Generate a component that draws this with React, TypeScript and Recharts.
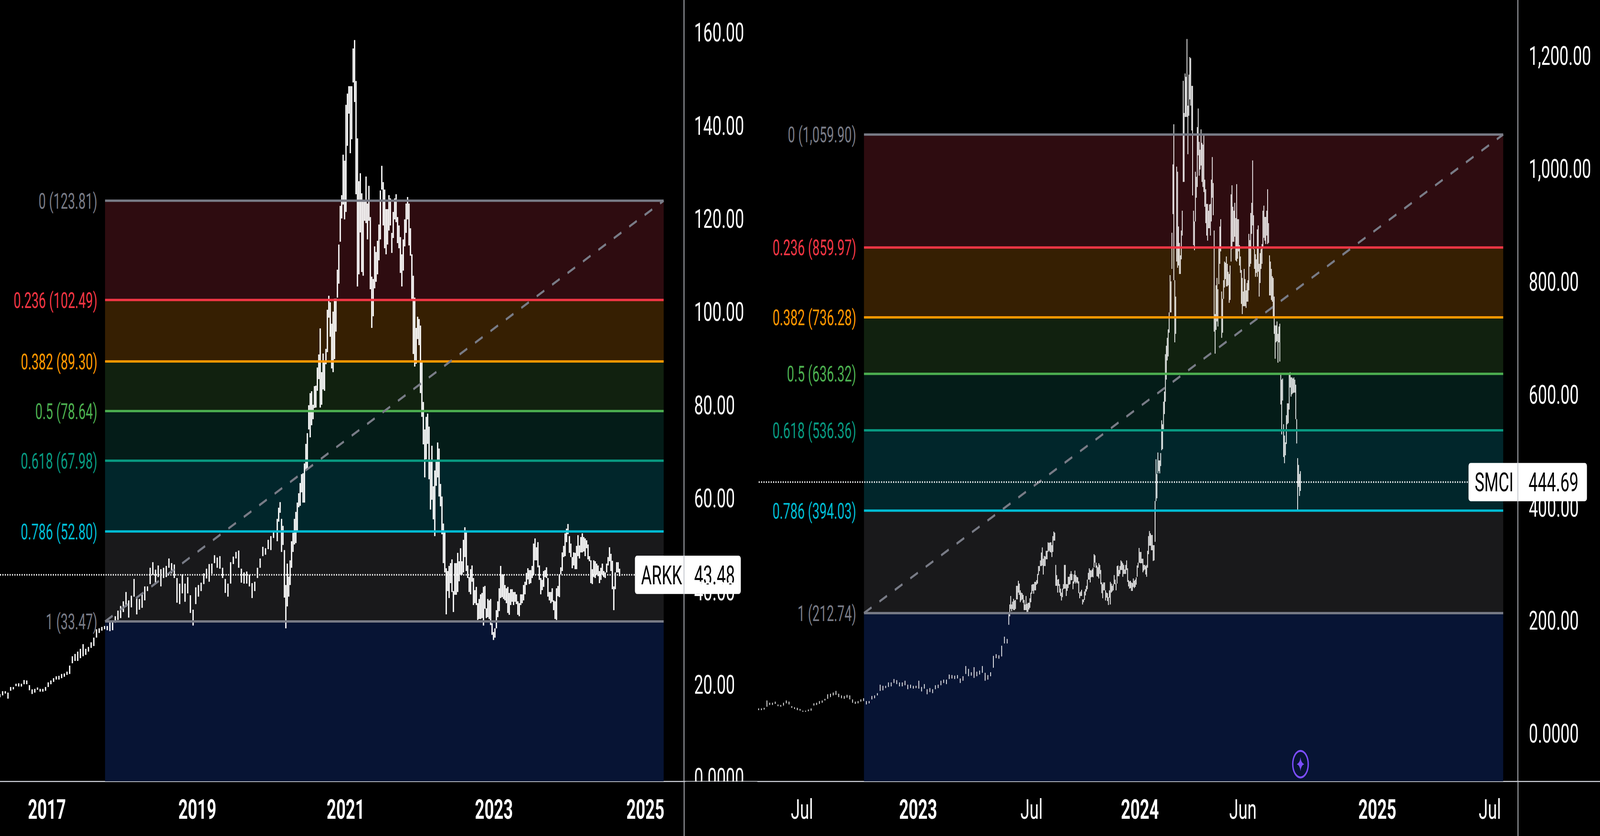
import React from 'react';
import { ComposedChart, Bar, XAxis, YAxis, ReferenceArea, ReferenceLine, ReferenceDot } from 'recharts';

type Range = [number, number];

const fibRatios = ['0', '0.236', '0.382', '0.5', '0.618', '0.786', '1'];
const fibLineColors = ['#787b86', '#f23645', '#ff9800', '#4caf50', '#089981', '#00bcd4', '#787b86'];
const fibBandColors = ['#2e0c10', '#361f02', '#11210f', '#041c18', '#01262b', '#19191b', '#071434'];

const arkkFibs = [123.81, 102.49, 89.3, 78.64, 67.98, 52.8, 33.47];
const arkkFibText = ['123.81', '102.49', '89.30', '78.64', '67.98', '52.80', '33.47'];
const smciFibs = [1059.9, 859.97, 736.28, 636.32, 536.36, 394.03, 212.74];
const smciFibText = ['1,059.90', '859.97', '736.28', '636.32', '536.36', '394.03', '212.74'];

const arkkPriceTicks = [0, 20, 40, 60, 80, 100, 120, 140, 160];
const arkkPriceLabels = ['0.0000', '20.00', '40.00', '60.00', '80.00', '100.00', '120.00', '140.00', '160.00'];
const smciPriceTicks = [0, 200, 400, 600, 800, 1000, 1200];
const smciPriceLabels = ['0.0000', '200.00', '400.00', '600.00', '800.00', '1,000.00', '1,200.00'];

// x axis units: weeks for ARKK, sessions for SMCI
const arkkTimeTicks = [33, 138.8, 243.2, 347.5, 454];
const arkkTimeLabels = ['2017', '2019', '2021', '2023', '2025'];
const smciTimeTicks = [47, 171.4, 293, 409, 519.4, 663.4, 784];
const smciTimeLabels = ['Jul', '2023', 'Jul', '2024', 'Jun', '2025', 'Jul'];

// [low, high] per candle
const arkkEarly: Range[] = [
  [17.2, 17.9], [17.6, 18.5], [18, 18.5], [16.9, 18.2], [18.6, 19.4], [18.9, 19.4], [19.6, 20.1], [19.5, 20.2], [19.5, 20.1], [20, 20.9],
  [20, 20.8], [18.7, 19.8], [17.9, 18.9], [18.2, 19], [18.8, 19.3], [18.4, 19], [18.4, 19], [18.6, 19.4], [19.4, 20.4], [20, 20.8],
  [20.5, 21.3], [21, 21.7], [21, 21.8], [21.3, 22.2], [21.6, 22.3], [22, 22.7], [22.2, 24], [24.5, 26], [25, 26.5], [25, 27],
  [25.6, 27.6], [26, 28.6], [26.3, 27.6], [27, 28], [27.8, 29], [28.2, 30], [30, 31.8], [31, 32], [31.5, 32.3], [31.8, 32.5],
  [31.6, 32.5], [31.4, 33.4], [31.6, 33.6], [33.2, 34.6], [33.8, 35.8], [34.2, 36.8], [35.5, 37.8], [36.6, 39.8], [34.3, 38], [36.5, 39],
  [38.8, 42.6], [35, 38.6], [36, 38.3], [36.4, 39.4], [38, 41], [40, 41], [41.5, 45], [43.5, 46.2], [41.8, 44.6], [43, 45.5],
  [41, 44.7], [42.8, 45], [43, 45.4], [45, 47], [43.8, 46], [42.8, 45.7], [37.5, 42.8], [37.2, 41.6], [39.5, 43.6], [37.7, 41.6],
  [39.5, 43], [35.3, 39.1], [32.6, 36], [37.2, 40.8], [38.8, 41.3], [40, 41.8], [41.5, 43.8], [42.7, 44.8], [42, 45.8], [43.7, 45.9],
  [46, 47.7], [45, 47.2], [44.8, 47.5], [42.8, 45], [39.6, 42.6], [38.8, 41.6], [41.6, 46.2], [45.8, 47.4], [47, 48.4], [45, 48.7],
  [41.8, 44.8], [41.6, 44], [41.6, 44.2], [41, 43.5], [38.5, 41.7], [40, 42], [42.8, 45], [45, 47], [47.5, 49.5], [47.8, 49.2],
  [49, 51], [48.8, 51.8], [51.4, 53],
];
const arkkRally: Range[] = [
  [50.7, 55.5], [54.9, 57.9], [56.8, 59.1], [48.4, 55.5], [49.9, 54], [38.6, 48.8], [32, 41.3], [36.7, 45.9], [38.8, 43.1], [41.3, 46.6],
  [45, 50.7], [48.4, 52.5], [50, 55.5], [50.3, 57], [53, 59], [58, 61], [58.3, 63.2], [61.2, 65.1], [59, 65.3], [59, 67.4],
  [66, 71.6], [66, 73.9], [74.7, 79.9], [73, 82.5], [75.6, 82.9], [76.9, 80], [79.3, 84], [79.4, 84.1], [83, 88], [85.5, 90.8],
  [79.4, 96.4], [80, 87], [83.3, 91], [83, 89.5], [88.7, 92], [91.3, 100.4], [98.7, 103.4], [94.6, 102], [87.8, 97.4], [87, 100],
  [89.8, 102.8], [95.7, 102.8],
];
const arkkPeak: Range[] = [
  [103, 109], [106, 114.4], [115, 122.7], [120, 125], [123, 133.7], [119.8, 132.4], [121.4, 144.4], [135.6, 146.8], [142.5, 148.4], [134, 148.4],
  [137, 148.4], [149.2, 156.5], [145, 158.3], [125.2, 149.5], [105.4, 137.2], [108, 128], [117, 129.7], [108.5, 125.4], [107.7, 123.6], [119.5, 123.8],
  [119, 129], [115.5, 123.2], [119.5, 127], [104.8, 120.3], [96.5, 107.5], [99, 107], [105, 114], [106.4, 112.8], [108, 115.2], [111, 118.7],
  [115.5, 126], [126.2, 131.3], [118.5, 127.8], [113.6, 126.2], [112.3, 122], [114.4, 122], [117.4, 125], [118.5, 124.3], [112.6, 116.9], [115.8, 121.4],
  [119.8, 124.3], [119.2, 125.2], [114.7, 120.3], [113.6, 118.5], [108.3, 116], [105.4, 112.3], [108.8, 115.5], [114, 119.8], [116.9, 123.2], [119.8, 124.6],
  [114.2, 123.2], [112, 117.9], [102.7, 112.3], [90.9, 107.7], [88.2, 103], [88.8, 96.5], [94.1, 98.9], [92.8, 98.4], [82.5, 97],
];
const arkkDecline: Range[] = [
  [77.4, 89.2], [71.5, 80.6], [64.4, 74.7], [68.3, 77.4], [71.6, 78.1], [64, 75.3], [57.5, 67.8], [59.6, 71.2], [55.4, 62.5], [51.8, 65.9],
  [62.6, 68], [64.4, 71.9], [60.3, 70.6], [58.2, 63], [52.2, 60.3], [46, 54.5], [44, 52.6], [35, 44.9], [40, 44.3], [38.5, 45.4],
  [41.7, 46], [39.8, 46.8], [35.5, 40], [39.2, 46], [39.2, 46], [39.8, 48.2], [42.1, 46.4], [43.5, 49.2], [43.5, 46.4], [44, 51],
  [47.3, 53.7], [44.3, 52.6], [42.8, 45.5], [39.8, 43], [39.3, 44.7], [42, 45.5], [37, 42.8], [37.4, 40.2], [37, 40.9], [33.8, 37.4],
  [34, 38.3], [34, 39.3], [34.2, 39.6], [32.6, 40.9], [36.2, 41.1], [34.2, 36.3], [34.4, 38.3], [34, 38], [32.7, 38.3], [30.6, 33.1],
  [29.5, 31.2], [30, 32], [32, 35.9], [34.4, 37.8], [35.7, 40.6], [38.5, 45.4], [38.7, 43.5], [38.3, 43.6], [38, 41.3], [37.4, 40.6],
  [35.3, 40.9], [34.9, 39.6], [37, 40.4], [37.7, 40.4], [37, 39.8], [37.7, 39.8], [37.2, 39.3], [34.9, 37.8], [34.6, 37.4], [37, 39.3],
];
const arkkRange: Range[] = [
  [37.4, 39.3], [38, 41.3], [39.3, 42], [41.3, 43.9], [42.5, 44.9], [41.5, 44.5], [41.7, 44.5], [42.8, 45.4], [43.5, 50.2], [46.6, 51.3],
  [46.6, 49.4], [45.1, 50.5], [42.4, 45.5], [39.3, 42.8], [40.2, 42.4], [40.9, 44.3], [43, 44.5], [42.8, 45.1], [38.8, 42.8], [38, 39.8],
  [37.4, 39.8], [37.7, 40.6], [35.9, 38], [34, 37.8], [33.8, 40.6], [38.9, 41.1], [38.7, 43.6], [43.6, 45.1], [44.3, 48.3], [47.3, 49.7],
  [47.5, 52.4], [50.5, 53.4], [52.2, 54.4], [48.2, 51.8], [47.3, 50.2], [44.9, 47.3], [45.5, 48.3], [44.7, 48.2], [44.7, 49.7], [47.5, 52],
  [47, 49.8], [48.3, 51.6], [48.3, 52.4], [48.5, 51.6], [47.5, 51.3], [49.2, 50.9], [46.8, 50], [46.4, 47.5], [41.7, 46.6], [41.5, 44.7],
  [43, 46.6], [42.8, 46.4], [43.5, 45.9], [43.2, 45.5], [41.7, 44.3], [42.4, 45], [43.5, 45.9], [43, 44.3], [42.8, 44], [44, 45.9],
  [45.5, 47.3], [46.4, 49.4], [44.3, 48], [40.4, 46.5], [35.9, 41], [40.4, 44], [44, 46.2], [44, 46.2], [43.2, 44.8],
];

const smciEarly: Range[] = [
  [41, 44], [41, 44], [42, 45], [47, 58], [50, 54], [50, 54], [52, 56], [48, 51], [47, 50], [49, 54],
  [53, 58], [51, 56], [45, 48], [43, 46], [41, 45], [40, 43], [38, 40], [38, 40], [39, 42], [40, 44],
  [49, 53], [50, 54], [52, 57], [54, 58], [58, 61], [61, 69], [64, 70], [67, 72], [68, 75], [64, 70],
  [62, 67], [61, 66], [63, 68], [60, 67], [54, 60], [52, 56], [53, 57], [56, 60], [57, 62], [51, 57],
  [53, 57], [60, 66], [62, 67], [67, 71], [75, 86], [76, 84], [80, 84], [82, 90], [83, 90], [89, 96],
  [87, 94], [83, 90], [83, 90], [85, 93], [78, 86], [80, 86], [79, 84], [80, 84], [79, 93], [74, 82],
  [79, 87], [69, 78], [73, 80], [71, 78], [78, 85], [80, 86], [85, 93], [89, 95], [87, 95], [96, 104],
  [97, 103], [96, 102], [97, 103], [89, 97], [93, 101], [105, 119], [101, 114], [102, 108], [98, 117], [101, 109],
  [104, 111], [107, 119], [93, 107], [95, 103], [101, 108], [116, 137], [133, 140], [132, 138], [136, 155], [159, 171], [159, 167],
];
const smciBase: Range[] = [
  [192, 212], [207, 228], [220, 243], [216, 228], [220, 233], [218, 238], [218, 235], [220, 236], [237, 261], [237, 261],
  [249, 270], [245, 265], [232, 253], [235, 249], [237, 248], [231, 245], [218, 236], [218, 228], [218, 243], [214, 229],
  [215, 231], [219, 231], [222, 239], [232, 249], [247, 263], [252, 264], [247, 264], [253, 268], [253, 268], [263, 271],
  [265, 282], [280, 296], [287, 296], [296, 306], [296, 320], [297, 329], [281, 309], [296, 314], [296, 313], [308, 323],
  [308, 323], [321, 338], [323, 337], [321, 338], [320, 338], [312, 333], [321, 349], [341, 357], [341, 355], [261, 298],
  [261, 280], [249, 272], [261, 273], [249, 264], [243, 256], [235, 249], [241, 256], [255, 264], [256, 298], [256, 298],
  [243, 264], [252, 264], [257, 277], [263, 277], [264, 282], [271, 287], [271, 282], [255, 269], [265, 281], [268, 288],
  [265, 280], [267, 277], [265, 276], [248, 269], [239, 249], [243, 251], [243, 254], [228, 237], [232, 237], [236, 251],
  [244, 255], [251, 261], [255, 272], [272, 284], [272, 292], [267, 289], [276, 288], [277, 290], [276, 293], [294, 317],
  [302, 315], [293, 302], [278, 297], [277, 294], [274, 301], [282, 298], [264, 289], [248, 267], [239, 264], [253, 267],
  [253, 267], [235, 253], [240, 249], [234, 248], [227, 241], [240, 253], [228, 268], [249, 265], [251, 261], [253, 264],
  [264, 280], [264, 272], [253, 265], [265, 296], [278, 297], [278, 289], [282, 296], [289, 306], [289, 304], [277, 301],
  [282, 298], [282, 290], [282, 298], [289, 306], [268, 292], [260, 271], [256, 269], [257, 270], [252, 267], [252, 266],
  [259, 274], [257, 270], [259, 272], [263, 276], [277, 297], [293, 302], [302, 328], [301, 321], [301, 321], [301, 309],
  [285, 309], [288, 298], [290, 298], [281, 296],
];
const smciBreakout: Range[] = [
  [277, 298], [293, 323], [317, 349], [332, 358], [332, 354], [324, 351], [324, 351], [305, 333], [306, 333], [339, 411],
  [411, 485], [416, 459], [460, 497], [464, 483], [460, 483], [473, 496], [501, 554], [503, 547], [536, 587], [565, 605],
  [587, 671], [626, 686], [660, 700], [667, 715], [709, 745], [745, 811], [745, 800], [822, 886], [919, 1007], [802, 1078],
  [692, 802], [707, 773], [835, 1003], [824, 994], [828, 897], [813, 868], [813, 846], [839, 890], [881, 925], [976, 1155],
  [976, 1098], [1091, 1168], [1091, 1162], [1091, 1229], [1025, 1111], [1093, 1166], [1122, 1197], [1111, 1195], [1067, 1146], [952, 1146],
];
const smciTop: Range[] = [
  [864, 925], [855, 906], [906, 994], [948, 985], [967, 1073], [1023, 1106], [987, 1047], [998, 1033], [1005, 1069], [976, 1045],
  [967, 1042], [958, 1058], [932, 980], [903, 963], [881, 937], [872, 937], [894, 925], [894, 936], [881, 937], [906, 980],
  [948, 1020], [917, 974], [711, 890], [672, 742], [714, 793], [729, 806], [720, 786], [795, 861], [831, 897], [853, 910],
  [700, 782], [709, 769], [769, 802], [789, 835], [804, 833], [791, 844], [791, 831], [793, 817], [762, 813], [767, 828],
  [835, 954], [857, 970], [870, 932], [870, 925], [879, 939], [837, 912], [835, 972], [840, 910], [853, 910], [828, 864],
  [815, 844], [760, 820], [742, 806], [756, 782], [756, 822], [756, 804], [753, 784], [764, 797], [764, 802], [784, 884],
  [826, 873], [831, 921], [884, 939], [899, 1014], [857, 917], [822, 857], [808, 848], [815, 839], [808, 892], [817, 899],
  [773, 831], [797, 850], [822, 857], [831, 866], [859, 925], [877, 934], [872, 914], [866, 914], [881, 925], [866, 963], [868, 903],
];
const smciSlide: Range[] = [
  [775, 846], [775, 835], [767, 822], [764, 809], [738, 806], [707, 773], [663, 722], [692, 722], [694, 729], [656, 707],
  [692, 720], [658, 725], [582, 637], [529, 626], [589, 628], [489, 547], [478, 527], [492, 515], [512, 563], [547, 584],
  [549, 584], [573, 637], [612, 639], [596, 630], [600, 630], [602, 628], [603, 630], [603, 626], [556, 617], [513, 556],
  [395, 487], [436, 475], [420, 459], [429, 464],
];

const AXIS_GREY = '#c0c3ca';
const TEXT_SQUEEZE = 'scale(0.875, 1)';
const PRICE_SQUEEZE = 'scale(0.91, 1)';
const FONT = 'Roboto, sans-serif';
const DESIGN_W = 6000;
const DESIGN_H = 2139;

const spread = (list: Range[], from: number, to: number) =>
  list.map((range, i) => ({ t: from + (i * (to - from)) / (list.length - 1), range }));

const arkkRows = [
  ...spread(arkkEarly, 0, 192.5),
  ...spread([...arkkRally, ...arkkPeak, ...arkkDecline, ...arkkRange], 195.1, 435.9),
];
const smciRows = [
  ...spread(smciEarly, 0.6, 266.9),
  ...spread(smciBase, 268.6, 415.4),
  ...spread([...smciBreakout, ...smciTop, ...smciSlide], 416.3, 581.1),
];

const TimeTick = ({ x, y, payload, ticks, labels }: any) => {
  const label = labels[ticks.indexOf(payload.value)];
  const isYear = /^\d+$/.test(label);
  return (
    <text transform={`translate(${x} ${y + 88}) ${TEXT_SQUEEZE}`} textAnchor="middle" fill="#fff" fontSize={71} fontFamily={FONT} fontWeight={isYear ? 700 : 400}>
      {label}
    </text>
  );
};

const PriceTick = ({ x, y, payload, ticks, labels, gap }: any) => (
  <text transform={`translate(${x + gap} ${y + 24}) ${PRICE_SQUEEZE}`} fill="#fff" fontSize={67} fontFamily={FONT}>
    {labels[ticks.indexOf(payload.value)]}
  </text>
);

const FibLabel = ({ cx, cy, text, color }: any) => (
  <text transform={`translate(${cx - 29} ${cy + 20}) ${TEXT_SQUEEZE}`} textAnchor="end" fill={color} fontSize={55} fontFamily={FONT}>
    {text}
  </text>
);

const PriceBox = ({ cx, cy, symbol, price, left, right, symbolAt, priceAt }: any) => (
  <g>
    <rect x={cx - left} y={cy - 49} width={left + right} height={98} rx={8} fill="#fff" />
    <line x1={cx} x2={cx} y1={cy - 49} y2={cy + 49} stroke={AXIS_GREY} strokeWidth={3} />
    <text transform={`translate(${cx - symbolAt} ${cy + 24}) ${PRICE_SQUEEZE}`} fill="#000" fontSize={67} fontFamily={FONT}>{symbol}</text>
    <text transform={`translate(${cx + priceAt} ${cy + 24}) ${PRICE_SQUEEZE}`} fill="#000" fontSize={67} fontFamily={FONT}>{price}</text>
  </g>
);

const SparkBadge = ({ cx, cy }: any) => (
  <g>
    <ellipse cx={cx} cy={cy} rx={29} ry={34} fill="none" stroke="#7c4dff" strokeWidth={5} />
    <path d={`M${cx} ${cy - 18} Q${cx + 2} ${cy - 3} ${cx + 14} ${cy} Q${cx + 2} ${cy + 3} ${cx} ${cy + 18} Q${cx - 2} ${cy + 3} ${cx - 14} ${cy} Q${cx - 2} ${cy - 3} ${cx} ${cy - 18}Z`} fill="#7c4dff" />
  </g>
);

const PriceChart = ({
  rows, width, axisWidth, xMax, yMin, yMax, priceTicks, priceLabels, timeTicks, timeLabels,
  fibs, fibText, fibFrom, fibTo, lastPrice, lastFrom, lastTo, barSize, box, children,
}: any) => (
  <ComposedChart width={width} height={DESIGN_H} data={rows} margin={{ top: 0, right: 0, bottom: 0, left: 0 }}>
    <XAxis
      type="number"
      dataKey="t"
      domain={[0, xMax]}
      ticks={timeTicks}
      allowDataOverflow
      height={140}
      axisLine={false}
      tickLine={false}
      tick={<TimeTick ticks={timeTicks} labels={timeLabels} />}
      interval={0}
    />
    <YAxis
      orientation="right"
      domain={[yMin, yMax]}
      ticks={priceTicks}
      allowDataOverflow
      width={axisWidth}
      axisLine={{ stroke: AXIS_GREY, strokeWidth: 3 }}
      tickLine={false}
      tick={<PriceTick ticks={priceTicks} labels={priceLabels} gap={box.tickGap} />}
      interval={0}
    />
    {fibs.map((level: number, i: number) => (
      <ReferenceArea
        key={`band-${i}`}
        x1={fibFrom}
        x2={fibTo}
        y1={level}
        y2={i < fibs.length - 1 ? fibs[i + 1] : yMin}
        fill={fibBandColors[i]}
        fillOpacity={1}
        stroke="none"
      />
    ))}
    {fibs.map((level: number, i: number) => (
      <ReferenceLine
        key={`fib-${i}`}
        segment={[{ x: fibFrom, y: level }, { x: fibTo, y: level }]}
        stroke={fibLineColors[i]}
        strokeWidth={6}
      />
    ))}
    <ReferenceLine
      segment={[{ x: fibFrom, y: fibs[fibs.length - 1] }, { x: fibTo, y: fibs[0] }]}
      stroke="#787b86"
      strokeWidth={6}
      strokeDasharray="32 33"
    />
    {fibs.map((level: number, i: number) => (
      <ReferenceDot
        key={`label-${i}`}
        x={fibFrom}
        y={level}
        r={0}
        ifOverflow="visible"
        shape={(p: any) => <FibLabel {...p} text={`${fibRatios[i]} (${fibText[i]})`} color={fibLineColors[i]} />}
      />
    ))}
    <ReferenceLine
      segment={[{ x: lastFrom, y: lastPrice }, { x: lastTo, y: lastPrice }]}
      stroke="#fff"
      strokeWidth={4}
      strokeDasharray="4 5"
    />
    <Bar dataKey="range" fill="#fff" barSize={barSize} isAnimationActive={false} />
    <ReferenceDot x={xMax} y={lastPrice} r={0} ifOverflow="visible" shape={(p: any) => <PriceBox {...p} {...box} />} />
    {children}
  </ComposedChart>
);

export default function App() {
  // the browser may hand us a narrower window than the design size, so fit the layout to it
  const fitX = Math.min(1, window.innerWidth / DESIGN_W);
  const fitY = Math.min(1, window.innerHeight / DESIGN_H);
  return (
    <div
      style={{
        position: 'absolute', left: 0, top: 0, width: DESIGN_W, height: DESIGN_H, background: '#000', overflow: 'hidden',
        transformOrigin: '0 0', transform: `scale(${fitX}, ${fitY})`,
      }}
    >
      <div style={{ position: 'absolute', left: 0, top: 1998, width: DESIGN_W, height: 3, background: AXIS_GREY }} />
      <div style={{ position: 'absolute', left: 0, top: 0 }}>
        <PriceChart
          rows={arkkRows} width={2843} axisWidth={278} xMax={481.2} yMin={-0.84} yMax={166.9}
          priceTicks={arkkPriceTicks} priceLabels={arkkPriceLabels} timeTicks={arkkTimeTicks} timeLabels={arkkTimeLabels}
          fibs={arkkFibs} fibText={arkkFibText} fibFrom={73.9} fibTo={466.9}
          lastPrice={43.48} lastFrom={0} lastTo={446.5} barSize={5.5}
          box={{ symbol: 'ARKK', price: '43.48', left: 184, right: 213, symbolAt: 161, priceAt: 38, tickGap: 30 }}
        />
      </div>
      <div style={{ position: 'absolute', left: 2843, top: 0 }}>
        <PriceChart
          rows={smciRows} width={3157} axisWidth={308} xMax={814} yMin={-85} yMax={1298}
          priceTicks={smciPriceTicks} priceLabels={smciPriceLabels} timeTicks={smciTimeTicks} timeLabels={smciTimeLabels}
          fibs={smciFibs} fibText={smciFibText} fibFrom={113.4} fibTo={798.3}
          lastPrice={444.69} lastFrom={0.6} lastTo={760.9} barSize={4.5}
          box={{ symbol: 'SMCI', price: '444.69', left: 185, right: 259, symbolAt: 162, priceAt: 40, tickGap: 33 }}
        >
          <ReferenceDot x={581.1} y={-54.7} r={0} ifOverflow="visible" shape={(p: any) => <SparkBadge {...p} />} />
        </PriceChart>
      </div>
      <div style={{ position: 'absolute', left: 2570, top: 2000, width: 270, height: 139, background: '#000' }} />
      <div style={{ position: 'absolute', left: 2564, top: 1999, width: 3, height: 140, background: AXIS_GREY }} />
      <div style={{ position: 'absolute', left: 5691, top: 1999, width: 3, height: 140, background: AXIS_GREY }} />
    </div>
  );
}
